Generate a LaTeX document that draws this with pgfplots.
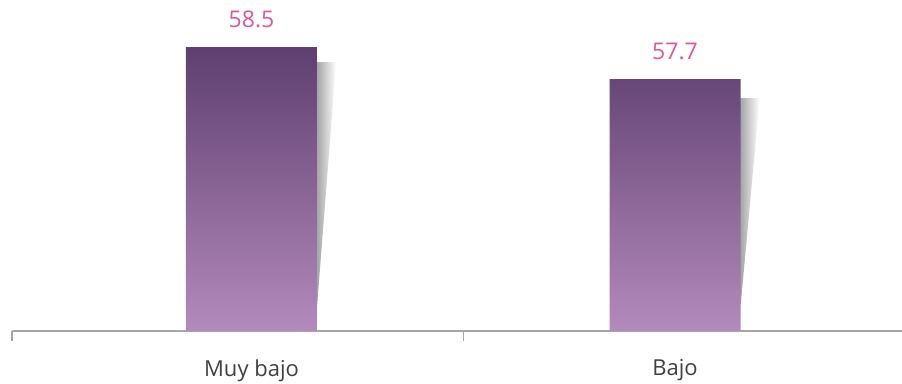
\documentclass[border=0pt]{standalone}
\usepackage{pgfplots}
\pgfplotsset{compat=1.18}
\usepackage{fontspec}
\setmainfont{Open Sans}
\definecolor{bartop}{HTML}{5E3F70}
\definecolor{barbot}{HTML}{B38ABB}
\definecolor{valpink}{HTML}{E0559B}
\definecolor{axgray}{HTML}{A6A6AE}
\definecolor{labgray}{HTML}{404040}
\begin{document}
\begin{tikzpicture}
\begin{axis}[
  scale only axis,
  width=890pt, height=331pt,
  at={(0,0)}, anchor=south west,
  xmin=-0.5655, xmax=1.536,
  ymin=51.4, ymax=59.675,
  axis x line=bottom, axis y line=none,
  axis line style={-, draw=axgray, line width=1.4pt},
  xtick={0,1}, xticklabels={Muy bajo, Bajo},
  major tick length=0pt,
  xtick style={draw=none},
  xticklabel style={font=\fontsize{22}{26}\selectfont, text=labgray, yshift=-25pt},
  extra x ticks={-0.5655,0.5},
  extra x tick labels={},
  extra x tick style={tick align=outside, major tick length=10pt, xtick style={draw=axgray, line width=1.4pt}},
  clip=false,
]
% shadows
\addplot[draw=none, left color=black!35, right color=white] coordinates {(0.1547,58.125) (0.2000,58.125) (0.1547,52.0)} -- cycle;
\addplot[draw=none, left color=black!35, right color=white] coordinates {(1.1547,57.225) (1.2000,57.225) (1.1547,52.0)} -- cycle;
% bars
\addplot[ybar, bar width=131pt, draw=none, top color=bartop, bottom color=barbot,
  nodes near coords, point meta=explicit symbolic,
  every node near coord/.append style={anchor=base, yshift=20pt, text=valpink, font=\fontsize{23}{27}\selectfont}]
  coordinates {(0,58.5) [58.5] (1,57.7) [57.7]};
\end{axis}
\pgfresetboundingbox
\path[use as bounding box] (-12pt,-52pt) rectangle (890pt,331pt);
\end{tikzpicture}
\end{document}
